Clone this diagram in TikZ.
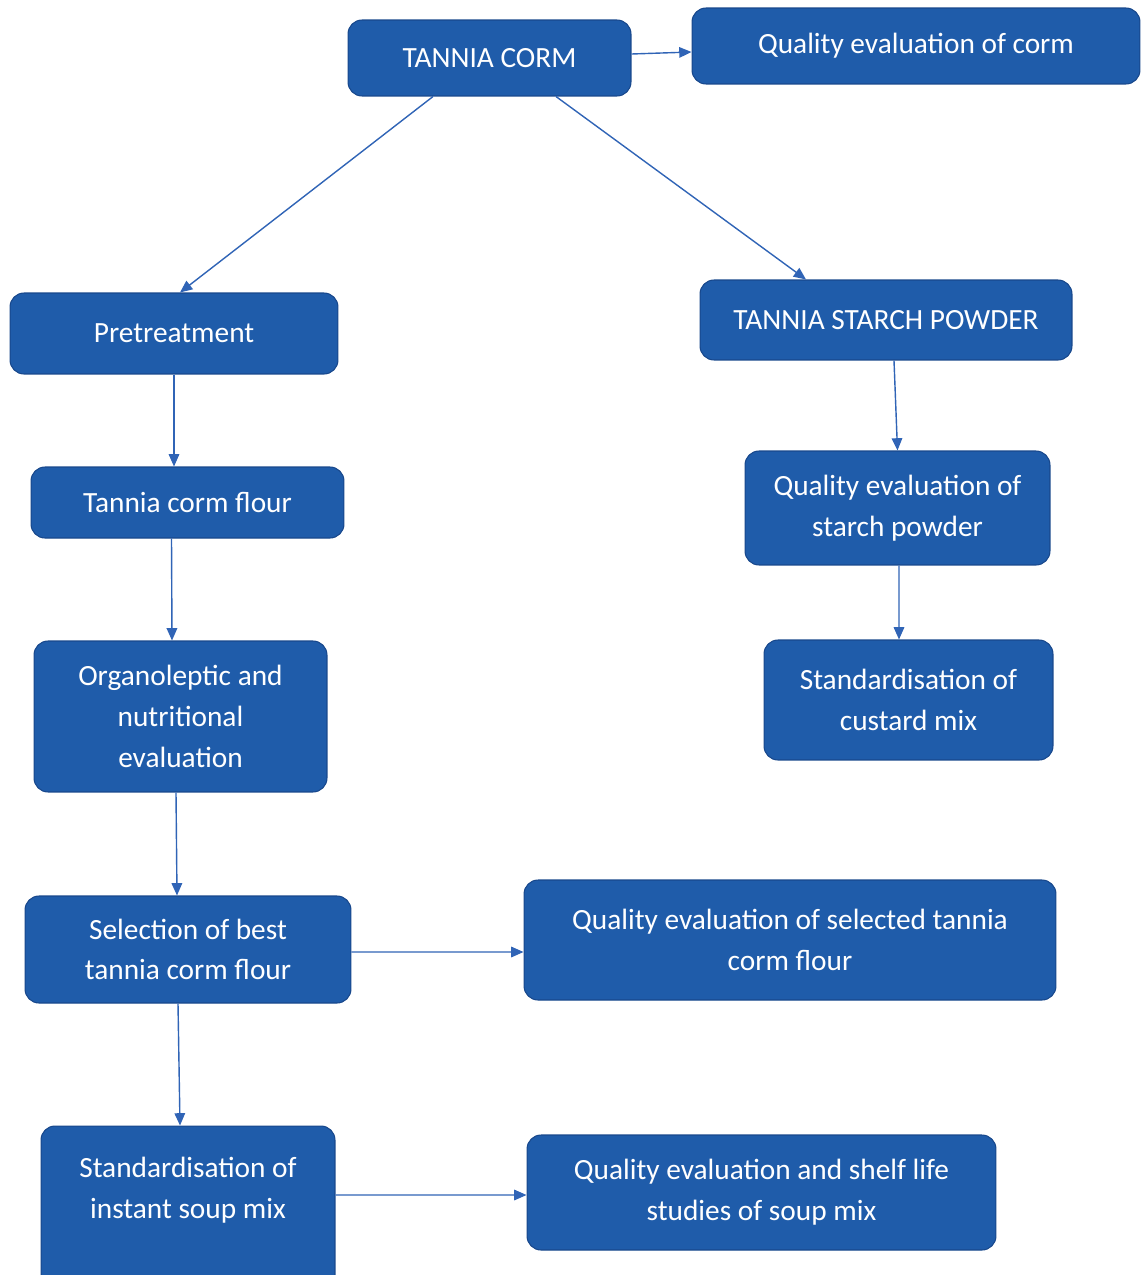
\documentclass[tikz,border=0pt]{standalone}
\usepackage{fontspec}
\setmainfont{Carlito}
\usetikzlibrary{arrows.meta}
\definecolor{boxblue}{RGB}{31,92,170}
\definecolor{boxedge}{RGB}{24,72,140}
\definecolor{lineblue}{RGB}{48,100,182}
\tikzset{
	stepnode/.style={draw=boxedge, line width=0.6pt, fill=boxblue, rounded corners=0.28cm,
		text=white, align=center, font=\fontsize{16.7}{23.2}\selectfont, inner sep=2pt},
	flow/.style={draw=lineblue, line width=0.8pt, -{Triangle[length=7pt,width=6pt]}}
}
\begin{document}
\begin{tikzpicture}[x=0.02cm, y=-0.02cm]
		%%%%% START %%%%%
		\useasboundingbox (0, 0) rectangle (1145, 1275);
		
		\node[stepnode, minimum width=5.66cm, minimum height=1.52cm] (corm) at (489.5, 58) {TANNIA CORM};
		\node[stepnode, minimum width=8.96cm, minimum height=1.52cm] (qcorm) at (916, 46) {Quality evaluation of corm};
		
		\node[stepnode, minimum width=6.56cm, minimum height=1.62cm] (pre) at (174, 333.5) {Pretreatment};
		\node[stepnode, minimum width=6.26cm, minimum height=1.42cm] (flour) at (187.5, 502.5) {Tannia corm flour};
		\node[stepnode, minimum width=5.86cm, minimum height=3.02cm] (organo) at (180.5, 716.5) {Organoleptic and\\nutritional\\evaluation};
		\node[stepnode, minimum width=6.52cm, minimum height=2.14cm] (select) at (188, 949.5) {Selection of best\\tannia corm flour};
		\node[stepnode, minimum width=5.88cm, minimum height=3.28cm] (soup) at (188, 1208) {Standardisation of\\instant soup mix\\~};
		
		\node[stepnode, minimum width=7.44cm, minimum height=1.6cm] (starch) at (886, 320) {TANNIA STARCH POWDER};
		\node[stepnode, minimum width=6.1cm, minimum height=2.28cm] (qstarch) at (897.5, 508) {Quality evaluation of\\starch powder};
		\node[stepnode, minimum width=5.78cm, minimum height=2.4cm] (custard) at (908.5, 700) {Standardisation of\\custard mix};
		
		\node[stepnode, minimum width=10.64cm, minimum height=2.4cm] (qselect) at (790, 940) {Quality evaluation of selected tannia\\corm flour};
		\node[stepnode, minimum width=9.38cm, minimum height=2.3cm] (qshelf) at (761.5, 1192.5) {Quality evaluation and shelf life\\studies of soup mix};
		
		% connectors
		\draw[flow] ([yshift=0.08cm]corm.east) -- ([yshift=-0.12cm]qcorm.west);
		\draw[flow] ([xshift=-1.13cm]corm.south) -- ([xshift=0.12cm]pre.north);
		\draw[flow] ([xshift=1.33cm]corm.south) -- ([xshift=-1.6cm]starch.north);
		
		\draw[flow] (pre.south) -- (pre.south |- flour.north);
		\draw[flow] ([xshift=-0.32cm]flour.south) -- ([xshift=-0.17cm]organo.north);
		\draw[flow] ([xshift=-0.09cm]organo.south) -- ([xshift=-0.22cm]select.north);
		\draw[flow] ([xshift=-0.2cm]select.south) -- ([xshift=-0.16cm]soup.north);
		
		\draw[flow] ([yshift=-0.05cm]select.east) -- ([yshift=-0.24cm]qselect.west);
		\draw[flow] ([yshift=0.26cm]soup.east) -- ([yshift=-0.05cm]qshelf.west);
		
		\draw[flow] ([xshift=0.16cm]starch.south) -- (qstarch.north);
		\draw[flow] ([xshift=0.03cm]qstarch.south) -- ([xshift=-0.19cm]custard.north);
		%%%%% END %%%%%
	\end{tikzpicture}
\end{document}
